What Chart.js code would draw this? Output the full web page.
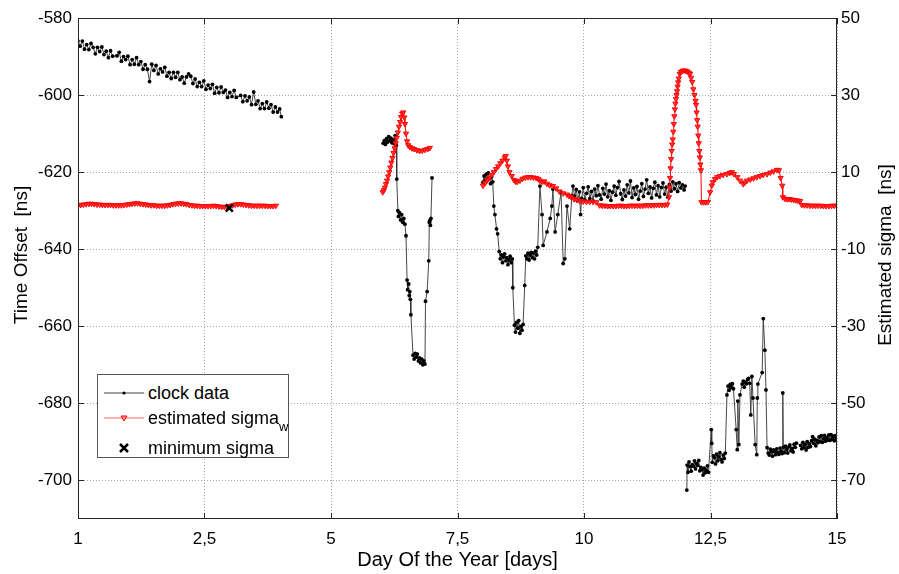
<!DOCTYPE html>
<html><head><meta charset="utf-8">
<script src="https://cdn.jsdelivr.net/npm/chart.js@4.4.0/dist/chart.umd.min.js"></script>
<style>
html,body{margin:0;padding:0;background:#fff;}
#wrap{position:relative;width:899px;height:574px;}
#legend{position:absolute;left:97px;top:374px;width:192px;height:84px;border:1px solid #555;background:#fff;font-family:'Liberation Sans',Arial,sans-serif;font-size:18px;color:#000;box-sizing:border-box;}
.row{position:absolute;left:0;height:22px;display:flex;align-items:center;white-space:nowrap;}
.row svg{display:block;}
sub{font-size:13px;vertical-align:-7px;line-height:0;}
</style></head>
<body><div id="wrap"><canvas id="c" width="899" height="574"></canvas>
<div id="legend">
 <div class="row" style="top:7px"><svg width="50" height="22"><line x1="6" y1="11" x2="46" y2="11" stroke="#444" stroke-width="1"/><circle cx="26" cy="11" r="1.6" fill="#000"/></svg><span>clock data</span></div>
 <div class="row" style="top:32px"><svg width="50" height="22"><line x1="6" y1="11" x2="46" y2="11" stroke="#ff6060" stroke-width="1"/><path d="M23 9 L29 9 L26 14 Z" fill="#ff9090" stroke="#ff0000" stroke-width="1"/></svg><span>estimated sigma<sub>w</sub></span></div>
 <div class="row" style="top:62px"><svg width="50" height="22"><path d="M22 7 L30 15 M30 7 L22 15" stroke="#000" stroke-width="2.5"/></svg><span>minimum sigma</span></div>
</div>
</div>
<script>
// ---- tick labels ----
const xTickValues = [1, 3.3333, 5.6667, 8, 10.3333, 12.6667, 15];
const xTickLabels = ['1', '2,5', '5', '7,5', '10', '12,5', '15'];
const leftTicks = [-700, -680, -660, -640, -620, -600, -580];
const rightTicks = [-70, -50, -30, -10, 10, 30, 50];
const leftTitle = 'Time Offset  [ns]';
const rightTitle = 'Estimated sigma  [ns]';

// ---- clock data (Time Offset, ns) ----
const clockDay1 = [1.00,1.04,1.08,1.12,1.16,1.20,1.24,1.28,1.32,1.36,1.40,1.44,1.48,1.52,1.56,1.60,1.64,
  1.72,1.76,1.80,1.84,1.88,1.92,1.96,2.00,2.04,2.08,2.12,2.16,2.20,2.24,2.28,2.32,2.36,2.40,2.44,2.48,2.52,2.56,2.60,2.64,2.68,2.72,2.76,2.80,2.84,2.88,2.92,2.96,3.00,3.04,3.08,3.12,3.16,3.20,3.24,3.28,3.32,3.36,3.40,3.44,3.48,3.52,3.56,3.60,3.64,3.68,3.72,3.76,3.80,3.84,3.88,3.92,
  4.00,4.04,4.08,4.12,4.16,4.20,4.24,4.28,4.32,4.36,4.40,4.44,4.48,4.52,4.56,4.60,4.64,4.68,4.72,4.75];
const clockNs1 = [-586.0,-587.3,-586.0,-588.1,-586.9,-588.2,-586.6,-587.6,-589.3,-587.6,-588.7,-587.5,-589.5,-588.6,-590.3,-588.5,-589.9,
  -589.8,-588.9,-591.2,-590.0,-590.8,-589.9,-592.1,-590.8,-592.0,-590.3,-592.1,-591.3,-593.3,-592.1,-593.3,-596.5,-592.0,-593.6,-592.3,-594.5,-593.2,-594.0,-592.8,-595.1,-594.1,-595.7,-594.1,-595.4,-594.1,-596.0,-595.3,-596.9,-595.3,-594.5,-595.1,-597.0,-595.8,-597.8,-596.7,-597.8,-596.3,-598.5,-597.4,-598.3,-597.2,-599.5,-598.0,-599.4,-597.9,-599.3,-598.7,-600.6,-599.3,-600.4,-598.8,-600.6,
  -600.1,-601.7,-600.2,-601.5,-600.5,-602.5,-599.2,-602.4,-601.5,-603.5,-602.2,-603.5,-601.8,-603.4,-602.5,-604.4,-603.1,-604.4,-603.6,-605.6];

const clockDay2 = [6.63,6.65,6.67,6.69,6.71,6.73,6.75,6.77,6.79,6.81,6.83,6.85,6.87,6.88,6.90,6.91,6.93,6.95,6.97,6.99,7.01,7.03,7.05,7.07,7.08,7.10,7.11,7.12,7.13,7.14,7.18,7.20,7.22,7.24,7.26,7.28,7.30,7.32,7.34,7.36,7.38,7.40,7.41,7.44,7.47,7.48,7.49,7.50,7.51,7.53];
const clockNs2 = [-612.5,-611.8,-612.8,-611.3,-612.2,-610.8,-611.9,-611.2,-612.4,-611.5,-612.6,-610.5,-613.0,-621.8,-630.0,-631.5,-630.5,-632.4,-631.0,-633.0,-632.0,-633.5,-636.5,-648.0,-650.5,-649.0,-652.0,-651.0,-653.0,-657.0,-667.5,-668.5,-667.0,-668.0,-667.2,-669.0,-668.2,-669.5,-668.5,-670.0,-669.0,-669.8,-653.5,-651.0,-643.0,-633.0,-632.5,-633.8,-632.0,-621.5];

const clockDay3 = [8.47,8.49,8.51,8.53,8.55,8.57,8.59,8.61,8.63,8.65,8.67,8.69,8.72,8.74,8.77,8.79,8.81,8.83,8.85,8.87,8.89,8.91,8.93,8.95,8.97,8.99,9.01,9.02,9.05,9.07,9.09,9.11,9.13,9.15,9.17,9.19,9.21,9.24,9.26,9.28,9.30,9.32,9.34,9.36,9.38,9.40,9.42,9.44,9.46,9.48,9.52,9.56,9.58,9.65,9.71,9.74,9.76,9.80,9.85,9.91,9.95,9.98,10.02,10.07,10.11,
  10.13,10.16,10.19,10.22,10.25,10.27,10.29,10.32,10.35,10.38,10.41,10.44,10.47,10.50,10.53,10.56,10.59,10.62,10.65,10.68,10.71,10.74,10.77,10.80,10.83,10.86,10.89,10.92,10.95,10.98,11.01,11.04,11.07,11.10,11.13,11.16,11.19,11.22,11.25,11.28,11.31,11.34,11.37,11.40,11.43,11.46,11.49,11.52,11.55,11.58,11.61,11.64,11.67,11.70,11.73,11.76,11.79,11.82,11.85,11.88,11.91,11.94,11.97,12.00,12.03,12.06,12.09,12.12,12.15,12.18,12.20];
const clockNs3 = [-622.6,-621.0,-622.2,-620.5,-621.8,-620.2,-621.5,-623.0,-621.2,-622.5,-628.8,-631.0,-634.7,-636.0,-640.6,-642.5,-641.5,-643.5,-642.0,-641.2,-643.0,-642.2,-644.0,-642.8,-641.8,-643.5,-642.5,-650.0,-659.7,-661.5,-659.0,-660.5,-658.5,-661.8,-660.0,-661.0,-659.5,-649.4,-641.7,-642.5,-641.0,-642.8,-641.5,-640.8,-642.2,-641.0,-642.5,-640.5,-641.5,-639.5,-623.6,-631.0,-639.0,-635.5,-632.0,-628.8,-624.4,-635.5,-631.0,-625.2,-643.7,-642.5,-628.8,-634.7,-626.0,
  -623.6,-626.2,-624.5,-627.4,-625.1,-631.0,-626.8,-624.0,-627.2,-625.5,-623.8,-626.9,-625.0,-627.5,-624.4,-626.1,-623.5,-625.9,-627.0,-624.2,-625.7,-623.1,-626.4,-624.8,-627.3,-625.2,-623.6,-626.0,-624.0,-622.4,-625.6,-627.1,-624.6,-626.2,-623.3,-625.4,-622.3,-626.6,-624.1,-625.8,-623.7,-627.0,-624.9,-623.0,-626.3,-624.4,-622.0,-625.5,-623.8,-626.7,-624.2,-622.6,-625.9,-623.5,-626.4,-624.0,-622.8,-625.7,-623.9,-626.5,-623.2,-624.9,-622.5,-624.3,-623.0,-625.0,-622.7,-624.1,-623.3,-624.6,-623.6];

const clockDay4 = [12.23,12.235,12.25,12.27,12.29,12.31,12.33,12.35,12.37,12.39,12.41,12.43,12.45,12.47,12.49,12.51,12.53,12.55,12.57,12.59,12.61,12.63,12.68,12.69,12.70,12.72,12.74,12.76,12.78,12.80,12.82,12.84,12.86,12.88,12.90,12.92,12.94,12.97,12.99,13.01,13.03,13.05,13.07,13.09,13.14,13.16,13.17,13.19,13.21,13.25,13.27,13.29,13.31,13.33,13.35,13.37,13.39,13.41,13.43,13.45,13.49,13.52,13.53,13.54,13.62,13.64,13.67,13.69,13.71,13.73,13.75,13.77,13.79,13.81,13.83,13.85,13.87,13.89,13.91,13.93,13.95,13.97,13.99,14.00,14.01,14.03,14.05,14.07,14.09,14.11,14.13,14.15,14.17,14.19,14.21,14.23,14.25,14.33,14.35,14.37,14.39,14.41,14.43,14.45,14.47,14.49,14.51,14.53,14.55,14.57,14.59,14.61,14.63,14.65,14.67,14.69,14.71,14.73,14.75,14.77,14.79,14.81,14.83,14.85,14.87,14.89,14.91,14.93,14.95,14.97,14.99];
const clockNs4 = [-702.5,-696.0,-697.9,-695.2,-696.4,-697.6,-695.9,-696.3,-694.9,-697.0,-695.6,-696.1,-694.8,-697.5,-696.6,-697.2,-698.6,-696.8,-698.0,-697.4,-696.2,-697.9,-686.8,-690.4,-695.3,-693.6,-694.1,-695.7,-693.2,-694.9,-693.9,-692.8,-694.6,-695.2,-693.4,-694.3,-692.9,-677.8,-675.5,-676.6,-675.1,-675.9,-674.9,-676.2,-686.8,-692.0,-679.4,-690.7,-677.8,-675.0,-674.2,-675.8,-674.5,-674.9,-673.8,-673.5,-674.8,-683.0,-673.0,-678.6,-690.7,-693.3,-678.6,-675.0,-672.0,-658.0,-666.2,-676.5,-691.5,-692.9,-693.4,-691.9,-692.6,-693.7,-692.1,-692.5,-693.3,-691.8,-692.7,-693.2,-691.6,-692.4,-693.0,-677.3,-691.4,-692.8,-691.1,-692.0,-692.9,-691.3,-690.8,-692.3,-691.7,-692.6,-690.6,-691.4,-690.3,-690.9,-691.8,-690.1,-691.5,-690.6,-692.1,-689.9,-691.4,-690.5,-691.2,-689.7,-688.6,-690.4,-689.3,-691.0,-689.6,-690.2,-688.7,-689.9,-688.4,-690.1,-689.2,-688.3,-689.8,-688.9,-689.5,-688.2,-689.6,-688.1,-689.3,-688.5,-689.7,-688.4,-689.0];

// ---- estimated sigma (ns, right axis) ----
const sigmaDay1 = [1.00,1.05,1.10,1.15,1.20,1.25,1.30,1.35,1.40,1.45,1.50,1.55,1.60,1.65,1.70,1.75,1.80,1.85,1.90,1.95,2.00,2.05,2.10,2.15,2.20,2.25,2.30,2.35,2.40,2.45,2.50,2.55,2.60,2.65,2.70,2.75,2.80,2.85,2.90,2.95,3.00,3.05,3.10,3.15,3.20,3.25,3.30,3.35,3.40,3.45,3.50,3.55,3.60,3.65,3.70,3.75,3.80,3.85,3.90,3.95,4.00,4.05,4.10,4.15,4.20,4.25,4.30,4.35,4.40,4.45,4.50,4.55,4.60,4.65];
const sigmaVal1 = [1.3,1.5,1.6,1.7,1.8,1.8,1.7,1.6,1.6,1.5,1.5,1.5,1.5,1.4,1.4,1.4,1.4,1.5,1.6,1.7,1.8,1.9,1.9,1.8,1.7,1.6,1.5,1.4,1.4,1.3,1.3,1.3,1.3,1.4,1.5,1.7,1.8,1.9,1.9,1.8,1.7,1.5,1.4,1.3,1.3,1.2,1.2,1.2,1.2,1.2,1.3,1.2,1.1,1.0,1.0,1.0,1.2,1.4,1.6,1.7,1.7,1.6,1.5,1.4,1.3,1.3,1.3,1.3,1.3,1.3,1.2,1.2,1.2,1.3];

const sigmaDay2 = [6.62,6.64,6.66,6.68,6.70,6.72,6.74,6.76,6.78,6.80,6.82,6.84,6.86,6.88,6.90,6.92,6.94,6.96,6.98,7.00,7.02,7.03,7.05,7.07,7.09,7.12,7.16,7.20,7.25,7.30,7.35,7.40,7.45,7.49];
const sigmaVal2 = [4.8,5.3,6.0,6.9,7.8,8.9,10.0,11.2,12.5,13.7,15.0,16.2,17.5,18.9,20.3,21.8,23.0,24.3,25.2,25.5,24.2,22.5,20.0,18.0,17.0,16.5,16.2,16.0,15.7,15.5,15.6,15.8,16.0,16.3];

const sigmaDay3 = [8.47,8.51,8.55,8.59,8.63,8.67,8.71,8.75,8.79,8.83,8.87,8.89,8.91,8.93,8.96,9.00,9.04,9.07,9.10,9.15,9.20,9.25,9.30,9.35,9.40,9.45,9.49,9.52,9.56,9.60,9.65,9.70,9.76,9.82,9.88,9.95,10.02,10.06,10.10,10.15,10.20,10.26,10.32,10.38,10.44,10.50,10.56,
  10.62,10.67,10.72,10.77,10.82,10.87,10.92,10.97,11.02,11.07,11.12,11.17,11.22,11.27,11.32,11.37,11.42,11.47,11.52,11.57,11.62,11.67,11.72,11.77,11.82,11.87,
  11.90,11.91,11.92,11.93,11.94,11.95,11.96,11.97,11.98,11.99,12.00,12.01,12.02,12.03,12.04,12.05,12.06,12.07,12.08,12.10,12.12,12.15,12.18,12.21,12.24,12.27,12.29,12.31,12.33,12.35,12.37,12.39,12.40,12.41,12.42,12.43,12.44,12.45,12.46,12.47,12.48,12.49,
  12.50,12.54,12.58,12.62,12.66,12.69,12.71,12.75,12.79,12.84,12.90,12.97,13.02,13.06,13.10,13.16,13.21,13.27,13.30,13.34,13.40,13.46,13.52,13.58,13.64,13.71,13.77,13.83,13.89,13.93,13.96,13.99,
  14.00,14.04,14.08,14.12,14.16,14.20,14.24,14.28,14.32,14.35,14.40,14.45,14.50,14.55,14.60,14.65,14.70,14.75,14.80,14.85,14.90,14.95,15.00];
const sigmaVal3 = [6.5,7.2,7.9,8.6,9.3,10.0,10.8,11.5,12.3,13.0,13.8,14.2,13.0,11.5,10.0,9.0,8.0,7.6,7.5,7.8,8.3,8.6,8.7,8.7,8.6,8.5,8.2,7.8,7.5,7.6,7.0,6.6,6.4,5.8,5.0,4.5,4.2,3.8,3.5,3.0,2.8,2.5,2.4,2.3,2.3,2.3,2.2,
  1.4,1.3,1.3,1.2,1.2,1.2,1.2,1.3,1.3,1.2,1.2,1.3,1.3,1.3,1.3,1.3,1.3,1.4,1.4,1.4,1.4,1.5,1.5,1.5,1.5,1.6,
  3.5,6.0,8.5,11.0,13.4,15.5,17.2,18.5,20.5,22.5,24.5,26.3,27.8,29.0,30.0,31.0,32.2,33.3,34.3,35.5,36.0,36.3,36.4,36.3,36.1,35.8,35.5,34.5,33.4,31.5,30.0,28.5,27.5,25.5,23.5,21.8,19.5,17.5,15.5,13.8,12.0,10.5,
  2.2,2.2,2.2,2.3,4.8,6.5,7.4,8.2,8.7,9.0,9.3,9.5,9.8,10.0,9.5,8.7,7.8,6.9,7.3,7.8,8.1,8.4,8.7,9.0,9.3,9.5,9.9,10.2,10.6,10.5,8.5,6.5,
  3.5,3.1,3.0,3.0,2.9,2.8,2.7,2.6,2.5,1.5,1.4,1.4,1.3,1.3,1.3,1.3,1.3,1.2,1.2,1.2,1.3,1.3,1.3];

// ---- minimum sigma ----
const minSigmaDay = [3.79];
const minSigmaVal = [0.7];

function pairs(xs, ys) {
  const out = [];
  const n = Math.min(xs.length, ys.length);
  for (let i = 0; i < n; i++) out.push({x: xs[i], y: ys[i]});
  return out;
}
function joinSegs(segs) {
  const out = [];
  segs.forEach((s, k) => {
    if (k > 0) out.push({x: (out[out.length-1].x + s[0].x) / 2, y: null});
    out.push(...s);
  });
  return out;
}
const clockData = joinSegs([pairs(clockDay1, clockNs1), pairs(clockDay2, clockNs2), pairs(clockDay3, clockNs3), pairs(clockDay4, clockNs4)]);
const sigmaData = joinSegs([pairs(sigmaDay1, sigmaVal1), pairs(sigmaDay2, sigmaVal2), pairs(sigmaDay3, sigmaVal3)]);
const minData = pairs(minSigmaDay, minSigmaVal);

const FONT = "'Liberation Sans', Arial, sans-serif";
Chart.defaults.font.family = FONT;
Chart.defaults.color = '#000';

const framePlugin = {
  id: 'frame',
  afterDatasetsDraw(chart) {
    const {ctx, chartArea: a, scales} = chart;
    ctx.save();
    ctx.strokeStyle = '#262626';
    ctx.lineWidth = 1;
    ctx.strokeRect(a.left + 0.5, a.top + 0.5, a.right - a.left - 1, a.bottom - a.top - 1);
    const L = 6;
    ctx.beginPath();
    scales.x.ticks.forEach(t => {
      const px = Math.round(scales.x.getPixelForValue(t.value)) + 0.5;
      ctx.moveTo(px, a.bottom); ctx.lineTo(px, a.bottom - L);
      ctx.moveTo(px, a.top); ctx.lineTo(px, a.top + L);
    });
    scales.yL.ticks.forEach(t => {
      const py = Math.round(scales.yL.getPixelForValue(t.value)) + 0.5;
      ctx.moveTo(a.left, py); ctx.lineTo(a.left + L, py);
    });
    scales.yR.ticks.forEach(t => {
      const py = Math.round(scales.yR.getPixelForValue(t.value)) + 0.5;
      ctx.moveTo(a.right, py); ctx.lineTo(a.right - L, py);
    });
    ctx.stroke();
    // vertical axis titles, both reading bottom-to-top
    ctx.fillStyle = '#000';
    ctx.font = "19px " + FONT;
    ctx.textAlign = 'center';
    ctx.textBaseline = 'middle';
    const cy = 255;
    ctx.save(); ctx.translate(22, cy); ctx.rotate(-Math.PI / 2); ctx.fillText(leftTitle, 0, 0); ctx.restore();
    ctx.save(); ctx.translate(886, cy); ctx.rotate(-Math.PI / 2); ctx.fillText(rightTitle, 0, 0); ctx.restore();
    ctx.restore();
  }
};

new Chart(document.getElementById('c'), {
  type: 'line',
  data: {
    datasets: [
      {label: 'minimum sigma', type: 'scatter', data: minData, yAxisID: 'yR', pointStyle: 'crossRot', pointRadius: 5, pointBorderColor: '#000', borderColor: '#000', pointBorderWidth: 2.5, showLine: false, order: 0},
      {label: 'estimated sigma', data: sigmaData, yAxisID: 'yR', borderColor: '#ff0000', borderWidth: 1, pointStyle: 'triangle', rotation: 180, pointRadius: 3, pointBorderColor: '#ff0000', pointBackgroundColor: 'rgba(255,40,40,0.85)', pointBorderWidth: 1, spanGaps: false, order: 1},
      {label: 'clock data', data: clockData, yAxisID: 'yL', borderColor: '#333', borderWidth: 0.9, pointRadius: 1.9, pointBackgroundColor: '#000', pointBorderColor: '#000', pointBorderWidth: 0, spanGaps: false, order: 2}
    ]
  },
  options: {
    responsive: false,
    animation: false,
    events: [],
    layout: {padding: {top: 18, left: 0, right: 0, bottom: 0}},
    plugins: {legend: {display: false}, tooltip: {enabled: false}},
    scales: {
      x: {
        type: 'linear', min: 1, max: 15,
        afterBuildTicks: s => { s.ticks = xTickValues.map(v => ({value: v})); },
        afterFit: s => { s.height = 55; },
        ticks: {callback: (v, i) => xTickLabels[i], font: {size: 17}, color: '#000', maxRotation: 0, autoSkip: false, padding: 10},
        grid: {color: '#a8a8a8', drawTicks: false, lineWidth: 1},
        border: {display: false, dash: [1, 2]},
        title: {display: true, text: 'Day Of the Year [days]', font: {size: 20}, color: '#000', padding: {top: 0, bottom: 2}}
      },
      yL: {
        type: 'linear', position: 'left', min: -710, max: -580,
        afterBuildTicks: s => { s.ticks = leftTicks.map(v => ({value: v})); },
        afterFit: s => { s.width = 78; },
        ticks: {font: {size: 17}, color: '#000', padding: 6},
        grid: {color: '#a8a8a8', drawTicks: false, lineWidth: 1},
        border: {display: false, dash: [1, 2]},
        title: {display: false}
      },
      yR: {
        type: 'linear', position: 'right', min: -80, max: 50,
        afterBuildTicks: s => { s.ticks = rightTicks.map(v => ({value: v})); },
        afterFit: s => { s.width = 62; },
        ticks: {font: {size: 17}, color: '#000', padding: 4},
        grid: {display: false, drawTicks: false},
        border: {display: false},
        title: {display: false}
      }
    }
  },
  plugins: [framePlugin]
});
</script>
</body></html>
